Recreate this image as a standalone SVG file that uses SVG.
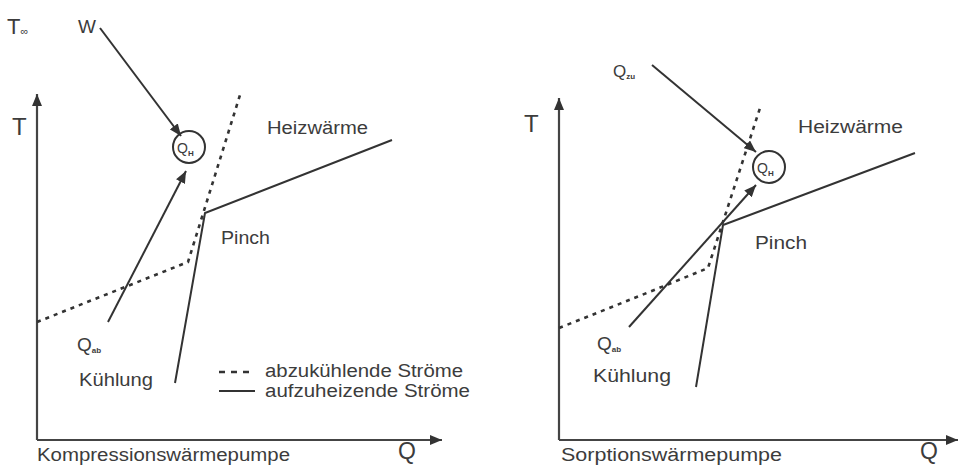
<svg xmlns="http://www.w3.org/2000/svg" width="960" height="465" viewBox="0 0 960 465">
<style>
text{font-family:"Liberation Sans",Arial,sans-serif;fill:#3c3c3c}
.lbl{font-size:18px}
.big{font-size:24px}
.q{font-size:19px}
.sub{font-size:8px;font-weight:bold}
.ax{stroke:#444;stroke-width:2.2;fill:none}
.cold{stroke:#333;stroke-width:2.6;fill:none;stroke-dasharray:4 5}
.hot{stroke:#333;stroke-width:2;fill:none}
.arr{stroke:#333;stroke-width:2;fill:none;marker-end:url(#ah)}
.ring{stroke:#333;stroke-width:2;fill:none}
</style>
<defs>
<marker id="ah" viewBox="0 0 12 10" refX="12" refY="5" markerWidth="12" markerHeight="10" markerUnits="userSpaceOnUse" orient="auto">
<path d="M0,0 L12,5 L0,10 Z" fill="#333"/>
</marker>
</defs>
<rect width="960" height="465" fill="#fff"/>

<g id="left-panel">
<g id="left-axes">
<path class="ax" d="M37,440 V94" marker-end="url(#ah)"/>
<path class="ax" d="M37,440 H442" marker-end="url(#ah)"/>
<text class="big" x="12" y="135">T</text>
<text x="398" y="459" style="font-size:23px">Q</text>
<text class="lbl" x="37" y="461" textLength="253" lengthAdjust="spacingAndGlyphs">Kompressionswärmepumpe</text>
<text x="7" y="34" style="font-size:22px">T<tspan style="font-size:11px" dy="1">∞</tspan></text>
</g>
<g id="left-curves">
<path class="cold" d="M37,322 L188,262 L240,95"/>
<path class="hot" d="M175,383 L205,213 L392,140"/>
</g>
<g id="left-qh">
<circle class="ring" cx="189" cy="147" r="16"/>
<text x="177" y="153" style="font-size:14px">Q<tspan class="sub" dy="3">H</tspan></text>
</g>
<g id="left-connectors">
<path class="arr" d="M100,28 L181,136"/>
<path class="arr" d="M108,322 L186,171"/>
</g>
<g id="left-labels">
<text x="78" y="33" style="font-size:19px">W</text>
<text class="q" x="77" y="351">Q<tspan class="sub" dy="2">ab</tspan></text>
<text class="lbl" x="79" y="386" textLength="74" lengthAdjust="spacingAndGlyphs">Kühlung</text>
<text class="lbl" x="267" y="134" textLength="101" lengthAdjust="spacingAndGlyphs">Heizwärme</text>
<text class="lbl" x="221" y="244" textLength="49" lengthAdjust="spacingAndGlyphs">Pinch</text>
</g>
<g id="legend">
<path class="cold" d="M219,372 H249" style="stroke-dasharray:6 6"/>
<path class="hot" d="M219,391 H255"/>
<text class="lbl" x="265" y="377" textLength="198" lengthAdjust="spacingAndGlyphs">abzukühlende Ströme</text>
<text class="lbl" x="265" y="397" textLength="205" lengthAdjust="spacingAndGlyphs">aufzuheizende Ströme</text>
</g>
</g>

<g id="right-panel">
<g id="right-axes">
<path class="ax" d="M559,440 V98" marker-end="url(#ah)"/>
<path class="ax" d="M559,440 H958" marker-end="url(#ah)"/>
<text class="big" x="524" y="132">T</text>
<text x="920" y="459" style="font-size:23px">Q</text>
<text class="lbl" x="561" y="461" textLength="221" lengthAdjust="spacingAndGlyphs">Sorptionswärmepumpe</text>
</g>
<g id="right-curves">
<path class="cold" d="M559,328 Q640,296 708,268 L760,108"/>
<path class="hot" d="M696,387 L723,225 L915,153"/>
</g>
<g id="right-qh">
<circle class="ring" cx="769" cy="167" r="16"/>
<text x="757" y="173" style="font-size:14px">Q<tspan class="sub" dy="3">H</tspan></text>
</g>
<g id="right-connectors">
<path class="arr" d="M652,65 L756,152"/>
<path class="arr" d="M629,327 L756,185"/>
</g>
<g id="right-labels">
<text x="613" y="77" style="font-size:17px">Q<tspan class="sub" dy="2">zu</tspan></text>
<text class="q" x="597" y="350">Q<tspan class="sub" dy="2">ab</tspan></text>
<text class="lbl" x="593" y="382" textLength="78" lengthAdjust="spacingAndGlyphs">Kühlung</text>
<text class="lbl" x="798" y="133" textLength="105" lengthAdjust="spacingAndGlyphs">Heizwärme</text>
<text class="lbl" x="755" y="249" textLength="52" lengthAdjust="spacingAndGlyphs">Pinch</text>
</g>
</g>
</svg>
